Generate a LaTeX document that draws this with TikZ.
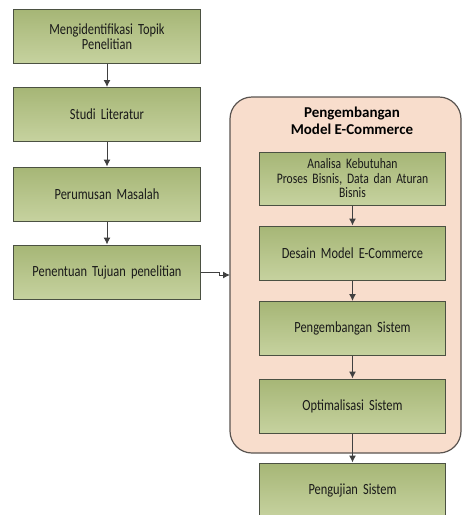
\documentclass[tikz,border=0pt]{standalone}
\usepackage{fontspec}
\setmainfont{Carlito}[FakeStretch=0.8]
\newfontfamily\titlefont{Carlito}
\usepackage{xcolor}
\usepackage{tikz}
\usetikzlibrary{arrows.meta,positioning}
\definecolor{steplight}{HTML}{C6D29F}
\definecolor{stepdark}{HTML}{A6B676}
\definecolor{stepline}{HTML}{4B5142}
\definecolor{groupfill}{HTML}{F8DDCC}
\definecolor{groupline}{HTML}{5A5450}
\definecolor{arrowgray}{HTML}{404040}

\begin{document}
\begin{tikzpicture}[x=1pt,y=-1pt,>=Latex,
    font=\fontsize{15.5}{15}\selectfont]

\tikzset{
box/.style={
    draw=stepline,
    line width=1pt,
    top color=stepdark,
    bottom color=steplight,
    minimum width=186pt,
    minimum height=54pt,
    text width=180pt,
    align=center,
    text=black!90
},
arr/.style={line width=1pt,color=arrowgray,
    arrows={-Latex[length=7pt,width=7pt]}}
}

\useasboundingbox (0,0) rectangle (462,515);

% group behind the right column
\draw[groupline,line width=1.2pt,fill=groupfill,rounded corners=22pt]
    (230,97) rectangle (461,453);
\node[font=\titlefont\fontsize{15}{17}\selectfont\bfseries,
    align=center] (title) at (352,121) {Pengembangan\\Model E-Commerce};

% left column
\node[box] (topik) at (107,36.5) {Mengidentifikasi Topik\\Penelitian};
\node[box] (studi) at (107,114.5) {Studi Literatur};
\node[box] (masalah) at (107,194) {Perumusan Masalah};
\node[box] (tujuan) at (107,272) {Penentuan Tujuan penelitian};

% right column
\node[box,minimum height=53pt,font=\fontsize{14.5}{14.5}\selectfont]
    (analisa) at (352.5,178.5) {Analisa Kebutuhan\\Proses Bisnis, Data dan Aturan\\Bisnis};
\node[box] (desain) at (352.5,253) {Desain Model E-Commerce};
\node[box] (sistem) at (352.5,328.5) {Pengembangan Sistem};
\node[box] (optim) at (352.5,406) {Optimalisasi Sistem};
\node[box] (uji) at (352.5,490) {Pengujian Sistem};

\coordinate (masuk) at (230,275);

\draw[arr] (topik) -- (studi);
\draw[arr] (studi) -- (masalah);
\draw[arr] (masalah) -- (tujuan);
\draw[arr] (tujuan.east) -- ++(19,0) |- (masuk);
\draw[arr] (analisa) -- (desain);
\draw[arr] (desain) -- (sistem);
\draw[arr] (sistem) -- (optim);
\draw[arr] (optim) -- (uji);

\end{tikzpicture}
\end{document}
